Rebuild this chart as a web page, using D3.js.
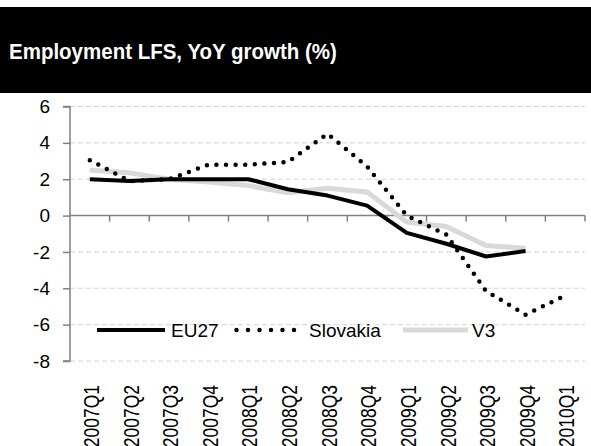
<!DOCTYPE html>
<meta charset="utf-8">
<style>
    body { margin: 0; background: #fff; }
    text { font-family: "Liberation Sans", Arial, sans-serif; }
    .grid line { stroke: #d4d4d4; stroke-dasharray: 5,3; }
</style>
<svg width="591" height="446"></svg>
<script src="https://d3js.org/d3.v7.min.js"></script>
<script>

    var quarters = ["2007Q1", "2007Q2", "2007Q3", "2007Q4", "2008Q1", "2008Q2", "2008Q3",
        "2008Q4", "2009Q1", "2009Q2", "2009Q3", "2009Q4", "2010Q1"];
    var eu27 = [2.0, 1.9, 2.0, 2.0, 2.0, 1.45, 1.1, 0.55, -0.95, -1.55, -2.25, -1.95];
    var slovakia = [3.05, 1.9, 2.0, 2.8, 2.8, 2.95, 4.5, 2.7, 0.0, -1.05, -4.15, -5.45, -4.4];
    var v3 = [2.5, 2.35, 2.0, 1.85, 1.65, 1.25, 1.5, 1.3, -0.35, -0.6, -1.65, -1.8];
    var yTicks = [6, 4, 2, 0, -2, -4, -6, -8];
    var seriesNames = ["EU27", "Slovakia", "V3"];

    var svg = d3.select("svg"),
        width = +svg.attr("width"),
        height = +svg.attr("height");

    // title band
    svg.append("rect")
        .attr("x", 0).attr("y", 7)
        .attr("width", width).attr("height", 86)
        .attr("fill", "#000");
    svg.append("text")
        .attr("x", 9).attr("y", 59)
        .attr("fill", "#fff")
        .attr("font-size", 20.5)
        .attr("font-weight", "bold")
        .attr("transform", "translate(9,59) scale(1,1.08) translate(-9,-59)")
        .text("Employment LFS, YoY growth (%)");

    var x = d3.scaleBand().domain(quarters).range([70, 585]);
    var y = d3.scaleLinear().domain([-8, 6]).range([361, 106.5]);
    var cx = function(q) { return x(q) + x.bandwidth() / 2; };

    // gridlines
    svg.append("g")
        .attr("class", "grid")
        .selectAll("line")
        .data(yTicks.filter(function(d) { return d !== 0; }))
        .enter()
        .append("line")
        .attr("x1", 70).attr("x2", 585)
        .attr("y1", function(d) { return y(d); })
        .attr("y2", function(d) { return y(d); });

    // y axis
    var yAxis = svg.append("g")
        .attr("transform", "translate(70,0)")
        .call(d3.axisLeft(y).tickValues(yTicks).tickSize(7).tickPadding(13).tickFormat(d3.format("d")));
    yAxis.select(".domain").attr("stroke", "#808080").attr("stroke-width", 1.5)
        .attr("d", "M-7," + y(6) + "H0V" + y(-8) + "H-7");
    yAxis.selectAll(".tick line").attr("stroke", "#808080").attr("stroke-width", 1.5);
    yAxis.selectAll(".tick text")
        .attr("font-family", "Liberation Sans")
        .attr("font-size", 19).attr("fill", "#000")
        .text(function(d) { return d < 0 ? "-" + Math.abs(d) : d; });

    // x axis at zero
    var xAxis = svg.append("g").attr("transform", "translate(0," + y(0) + ")");
    xAxis.append("line")
        .attr("x1", 70).attr("x2", 585)
        .attr("stroke", "#808080").attr("stroke-width", 1.5);
    xAxis.selectAll(".xt")
        .data(quarters)
        .enter()
        .append("line")
        .attr("class", "xt")
        .attr("x1", function(d) { return x(d) + x.bandwidth(); })
        .attr("x2", function(d) { return x(d) + x.bandwidth(); })
        .attr("y1", 0).attr("y2", 6)
        .attr("stroke", "#808080").attr("stroke-width", 1.5);

    // category labels at bottom (tall, narrow glyphs like the original)
    svg.append("g")
        .selectAll("text")
        .data(quarters)
        .enter()
        .append("text")
        .attr("transform", function(d) { return "translate(" + (cx(d) + 1) + ",385) rotate(-90) scale(1,1.3)"; })
        .attr("text-anchor", "end")
        .attr("dy", "0.36em")
        .attr("font-size", 17.5)
        .attr("fill", "#000")
        .text(function(d) { return d; });

    var line = d3.line()
        .defined(function(d) { return d != null; })
        .x(function(d, i) { return cx(quarters[i]); })
        .y(function(d) { return y(d); });

    var styles = [
        { stroke: "#000", width: 4, dash: null, cap: "butt" },
        { stroke: "#000", width: 4.5, dash: "0,9.6", cap: "round" },
        { stroke: "#d9d9d9", width: 5, dash: null, cap: "butt" }
    ];
    var data = [eu27, slovakia, v3];

    // draw V3 first, then EU27, then Slovakia on top
    [2, 0, 1].forEach(function(k) {
        svg.append("path")
            .datum(data[k])
            .attr("fill", "none")
            .attr("stroke", styles[k].stroke)
            .attr("stroke-width", styles[k].width)
            .attr("stroke-dasharray", styles[k].dash)
            .attr("stroke-linecap", styles[k].cap)
            .attr("stroke-linejoin", "round")
            .attr("d", line);
    });

    // legend
    var legX = [[97, 165, 171], [236.5, 295, 309], [403, 468, 472]];
    var legend = svg.append("g").attr("transform", "translate(0,330)");
    seriesNames.forEach(function(name, k) {
        legend.append("line")
            .attr("x1", legX[k][0]).attr("x2", legX[k][1])
            .attr("stroke", styles[k].stroke)
            .attr("stroke-width", styles[k].width)
            .attr("stroke-dasharray", k === 1 ? "0,11.5" : styles[k].dash)
            .attr("stroke-linecap", styles[k].cap);
        legend.append("text")
            .attr("x", legX[k][2])
            .attr("dy", "0.36em")
            .attr("font-size", 19)
            .attr("fill", "#000")
            .text(name);
    });

</script>
